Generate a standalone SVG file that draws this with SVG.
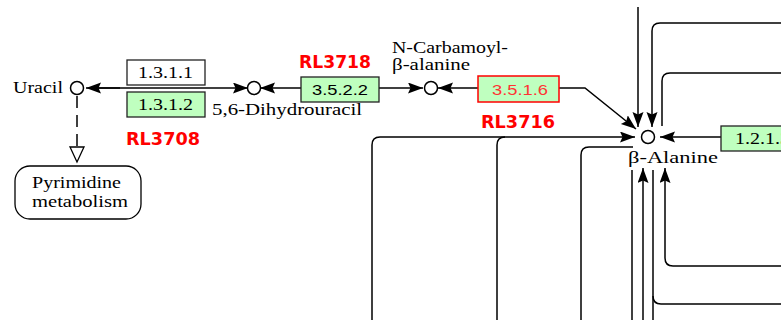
<svg xmlns="http://www.w3.org/2000/svg" width="781" height="320" viewBox="0 0 781 320">
<defs>
<style>
.bg{fill:#fff}
.ln{fill:none;stroke:#000;stroke-width:1.5}
.dash{fill:none;stroke:#000;stroke-width:1.5;stroke-dasharray:12 7}
.cpd{fill:#fff;stroke:#000;stroke-width:1.5}
.ez{fill:#fff;stroke:#222;stroke-width:1.3}
.ezg{fill:#bfffbf;stroke:#222;stroke-width:1.3}
.ezr{fill:#bfffbf;stroke:#f00;stroke-width:1.5}
.map{fill:#fff;stroke:#000;stroke-width:1.3}
.st{font-family:"Liberation Serif","DejaVu Serif",serif;font-size:16px;fill:#000}
.en{font-family:"Liberation Serif","DejaVu Serif",serif;font-size:16px;fill:#000}
.es{font-family:"Liberation Sans","DejaVu Sans",sans-serif;font-size:14.5px;fill:#000}
.rl{font-family:"DejaVu Sans","Liberation Sans",sans-serif;font-weight:bold;font-size:17.5px;fill:#f00}
</style>
<marker id="ah" markerUnits="userSpaceOnUse" markerWidth="16" markerHeight="12" refX="15" refY="5.5" orient="auto">
<path d="M0,0 L15,5.5 L0,11 L2.5,5.5 z" fill="#000"/>
</marker>
</defs>
<rect class="bg" x="0" y="0" width="781" height="320"/>
<g id="connectors">
<path class="ln" d="M120,88 H86" marker-end="url(#ah)"/>
<path class="ln" d="M95,88 H248" marker-end="url(#ah)"/>
<path class="ln" d="M301,88 H260" marker-end="url(#ah)"/>
<path class="ln" d="M379,88 H423" marker-end="url(#ah)"/>
<path class="ln" d="M478,88 H438" marker-end="url(#ah)"/>
<path class="ln" d="M559,88 H585 L636,129" marker-end="url(#ah)"/>
<path class="ln" d="M372,320 V145 Q372,137 380,137 H635" marker-end="url(#ah)"/>
<path class="ln" d="M497,320 V145 Q497,137 505,137"/>
<path class="ln" d="M581,320 V155 Q581,147 589,147 H633"/>
<path class="ln" d="M721,137 H660" marker-end="url(#ah)"/>
<path class="ln" d="M638,7 V127" marker-end="url(#ah)"/>
<path class="ln" d="M781,23 H660 Q652,23 652,31 V127" marker-end="url(#ah)"/>
<path class="ln" d="M781,73 H670 Q662,73 662,81 V126"/>
<path class="ln" d="M632,170 V320"/>
<path class="ln" d="M643,320 V168" marker-end="url(#ah)"/>
<path class="ln" d="M653,170 V320"/>
<path class="ln" d="M653,296 Q653,304 661,304 H781"/>
<path class="ln" d="M781,266 H673 Q665,266 665,258 V168" marker-end="url(#ah)"/>
<path class="dash" d="M77,96 V148"/>
<polygon points="70,147 84,147 77,162" fill="#fff" stroke="#000" stroke-width="1.3"/>
</g>
<g id="uracil">
<circle class="cpd" cx="77" cy="88" r="6.5"/>
<text class="st" x="13" y="93" textLength="50" lengthAdjust="spacingAndGlyphs">Uracil</text>
</g>
<g id="dihydrouracil">
<circle class="cpd" cx="254" cy="88" r="6.5"/>
<text class="st" x="212" y="115" textLength="150" lengthAdjust="spacingAndGlyphs">5,6-Dihydrouracil</text>
</g>
<g id="ncarbamoyl">
<circle class="cpd" cx="431" cy="88" r="6.5"/>
<text class="st" x="392" y="53" textLength="116" lengthAdjust="spacingAndGlyphs">N-Carbamoyl-</text>
<text class="st" x="392" y="70" textLength="78" lengthAdjust="spacingAndGlyphs">β-alanine</text>
</g>
<g id="balanine">
<circle class="cpd" cx="648" cy="137" r="6.5"/>
<text class="st" x="628" y="163" textLength="90" lengthAdjust="spacingAndGlyphs">β-Alanine</text>
</g>
<g id="e1311">
<rect class="ez" x="127" y="60" width="78" height="25"/>
<text class="en" x="138" y="78" textLength="55" lengthAdjust="spacingAndGlyphs">1.3.1.1</text>
</g>
<g id="e1312">
<rect class="ezg" x="127" y="92" width="78" height="25"/>
<text class="en" x="138" y="110" textLength="55" lengthAdjust="spacingAndGlyphs">1.3.1.2</text>
<text class="rl" x="126" y="145" textLength="74" lengthAdjust="spacingAndGlyphs">RL3708</text>
</g>
<g id="e3522">
<rect class="ezg" x="301" y="77" width="78" height="25"/>
<text class="es" x="312" y="95" textLength="56" lengthAdjust="spacingAndGlyphs">3.5.2.2</text>
<text class="rl" x="299" y="68" textLength="72" lengthAdjust="spacingAndGlyphs">RL3718</text>
</g>
<g id="e3516">
<rect class="ezr" x="478" y="76" width="81" height="26"/>
<text class="es" x="492" y="95" textLength="56" lengthAdjust="spacingAndGlyphs" style="fill:#f33">3.5.1.6</text>
<text class="rl" x="481" y="128" textLength="74" lengthAdjust="spacingAndGlyphs">RL3716</text>
</g>
<g id="e1213">
<rect class="ezg" x="721" y="126" width="80" height="25"/>
<text class="en" x="735" y="144" textLength="55" lengthAdjust="spacingAndGlyphs">1.2.1.3</text>
</g>
<g id="pyrimidine">
<rect class="map" x="15" y="166" width="126" height="53" rx="15"/>
<text class="st" x="32" y="188" textLength="89" lengthAdjust="spacingAndGlyphs">Pyrimidine</text>
<text class="st" x="32" y="207" textLength="96" lengthAdjust="spacingAndGlyphs">metabolism</text>
</g>
</svg>
